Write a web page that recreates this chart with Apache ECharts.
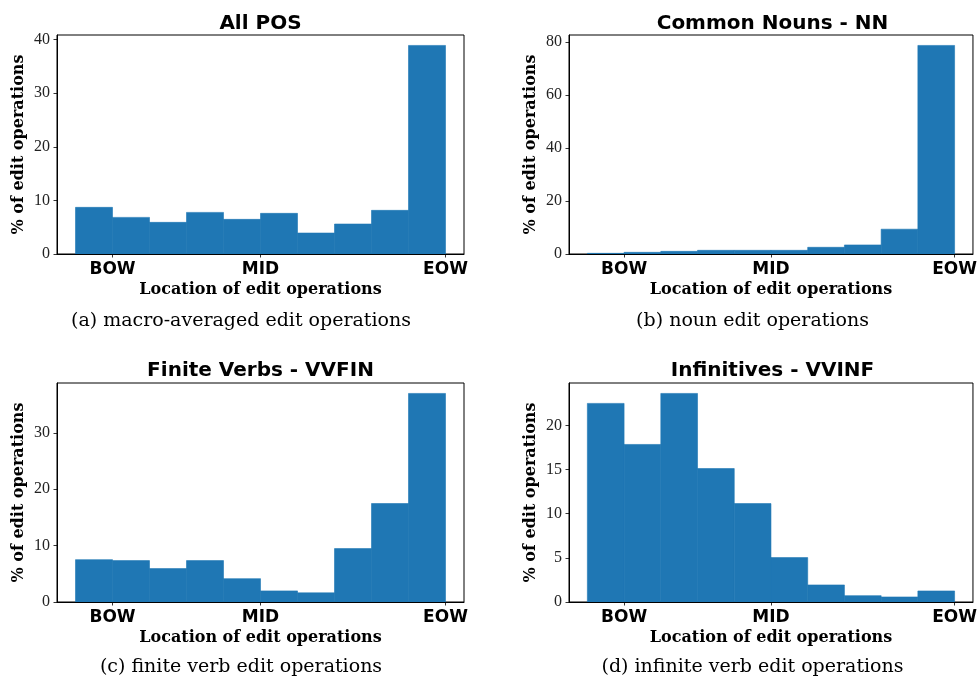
<!DOCTYPE html>
<html>
<head>
<meta charset="utf-8">
<script src="https://cdn.jsdelivr.net/npm/echarts@6/dist/echarts.min.js"></script>
<style>
html,body{margin:0;padding:0;background:#fff;}
#chart{width:980px;height:677px;}
</style>
</head>
<body>
<div id="chart"></div>
<script>
// ---- data ----
const binStarts = [0, 1, 2, 3, 4, 5, 6, 7, 8, 9];
const binWidth = 1;
const tickPositions = [1, 5, 10];
const tickLabels = ['BOW', 'MID', 'EOW'];

const allPosValues = [8.70, 6.83, 5.90, 7.76, 6.46, 7.58, 3.91, 5.59, 8.14, 38.9];
const nounValues = [0.25, 0.63, 1.0, 1.39, 1.39, 1.39, 2.53, 3.42, 9.37, 78.8];
const finiteVerbValues = [7.51, 7.34, 5.92, 7.34, 4.14, 1.97, 1.62, 9.47, 17.46, 36.98];
const infinitiveValues = [22.5, 17.85, 23.63, 15.12, 11.15, 5.03, 1.93, 0.72, 0.57, 1.25];

const allPosYTicks = [0, 10, 20, 30, 40];
const nounYTicks = [0, 20, 40, 60, 80];
const finiteVerbYTicks = [0, 10, 20, 30];
const infinitiveYTicks = [0, 5, 10, 15, 20];

const panelTitles = ['All POS', 'Common Nouns - NN', 'Finite Verbs - VVFIN', 'Infinitives - VVINF'];
const panelCaptions = ['(a) macro-averaged edit operations', '(b) noun edit operations',
  '(c) finite verb edit operations', '(d) infinite verb edit operations'];
const xAxisName = 'Location of edit operations';
const yAxisName = '% of edit operations';

// ---- layout ----
const panels = [
  {values: allPosValues, yTicks: allPosYTicks, grid: {left: 57, top: 35}, titleTop: 13.5, capX: 241, capTop: 312},
  {values: nounValues, yTicks: nounYTicks, grid: {left: 569, top: 35}, titleTop: 13.5, capX: 752.5, capTop: 312},
  {values: finiteVerbValues, yTicks: finiteVerbYTicks, grid: {left: 57, top: 383}, titleTop: 361, capX: 241, capTop: 658},
  {values: infinitiveValues, yTicks: infinitiveYTicks, grid: {left: 569, top: 383}, titleTop: 361, capX: 752.5, capTop: 658}
];
const gridW = 407, gridH = 219;
const barColor = '#1f77b4';
const serif = 'DejaVu Serif';
const sans = 'DejaVu Sans';

const grids = [], xAxes = [], yAxes = [], series = [], titles = [];
panels.forEach((p, i) => {
  grids.push({left: p.grid.left, top: p.grid.top, width: gridW, height: gridH,
    show: true, borderColor: '#000', borderWidth: 1, backgroundColor: 'transparent', containLabel: false});
  xAxes.push({
    type: 'value', gridIndex: i, min: -0.5, max: 10.5, z: 5,
    name: xAxisName, nameLocation: 'middle', nameGap: 28,
    nameTextStyle: {fontFamily: serif, fontWeight: 'bold', fontSize: 16, color: '#000'},
    axisLine: {show: true, onZero: false, lineStyle: {color: '#000', width: 1}},
    axisTick: {show: true, inside: false, length: 3.5, customValues: tickPositions, lineStyle: {color: '#000', width: 0.8}},
    axisLabel: {show: true, margin: 7, customValues: tickPositions,
      formatter: v => tickLabels[tickPositions.indexOf(v)] || '',
      fontFamily: sans, fontWeight: 'bold', fontSize: 17, color: '#000'},
    splitLine: {show: false}
  });
  const maxV = Math.max(...p.values) * 1.05;
  yAxes.push({
    type: 'value', gridIndex: i, min: 0, max: maxV, z: 5,
    name: yAxisName, nameLocation: 'middle', nameGap: 30, nameRotate: 90,
    nameTextStyle: {fontFamily: serif, fontWeight: 'bold', fontSize: 16, color: '#000'},
    axisLine: {show: true, onZero: false, lineStyle: {color: '#000', width: 1}},
    axisTick: {show: true, inside: false, length: 3.5, customValues: p.yTicks, lineStyle: {color: '#000', width: 0.8}},
    axisLabel: {show: true, margin: 7, customValues: p.yTicks,
      fontFamily: 'Liberation Serif', fontSize: 16, color: '#222'},
    splitLine: {show: false}
  });
  series.push({
    type: 'custom', xAxisIndex: i, yAxisIndex: i, z: 2,
    encode: {x: [0, 1], y: 2},
    data: binStarts.map((s, k) => [s, s + binWidth, p.values[k]]),
    renderItem: (params, api) => {
      const a = api.coord([api.value(0), api.value(2)]);
      const b = api.coord([api.value(1), 0]);
      return {type: 'rect', shape: {x: a[0], y: a[1], width: b[0] - a[0], height: b[1] - a[1]},
        style: {fill: barColor, stroke: barColor, lineWidth: 0.6}};
    }
  });
  titles.push({text: panelTitles[i], left: p.grid.left + gridW / 2, top: p.titleTop, textAlign: 'center', padding: 0,
    textStyle: {fontFamily: sans, fontWeight: 'bold', fontSize: 20, color: '#000'}});
  titles.push({text: panelCaptions[i], left: p.capX, top: p.capTop, textAlign: 'center', padding: 0,
    textStyle: {fontFamily: serif, fontWeight: 'normal', fontSize: 19, color: '#000'}});
});

const chart = echarts.init(document.getElementById('chart'), null, {renderer: 'canvas'});
chart.setOption({
  animation: false,
  backgroundColor: '#fff',
  title: titles,
  grid: grids,
  xAxis: xAxes,
  yAxis: yAxes,
  series: series
});
</script>
</body>
</html>
